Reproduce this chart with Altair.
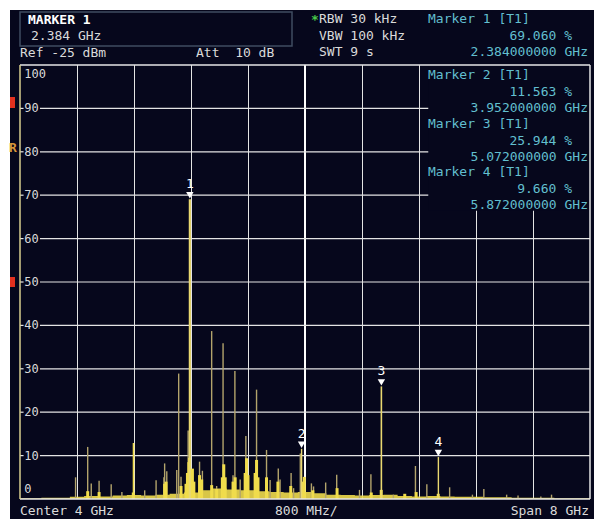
import altair as alt
import pandas as pd

# plot area inside the 594x519 canvas
W, H = 570, 434
OX, OY = 20, 65

BG = "#06071c"
GRID = "#e4e4e4"
TAN = "#b3a46c"
YEL = "#f0dc4c"
CYAN = "#62bfcf"
TXT = "#dadada"
FONT = "DejaVu Sans Mono"
NB = "\u00a0"

# thin harmonic spikes (GHz, %)
spike_ghz = [0.78, 0.95, 1.00, 1.11, 1.28, 1.43, 1.75, 1.91, 2.02, 2.03, 2.06, 2.20,
             2.227, 2.26, 2.36, 2.52, 2.56, 2.69, 2.76, 2.85, 2.99, 3.016, 3.09, 3.17,
             3.32, 3.46, 3.51, 3.625, 3.65, 3.805, 3.84, 3.934, 4.09, 4.12, 4.29, 4.445,
             4.765, 4.925, 5.24, 5.55, 5.71, 6.03, 6.35, 6.51, 6.83, 6.99, 7.31, 7.46]
spike_pct = [5.0, 12.0, 3.6, 4.2, 3.4, 1.6, 2.0, 4.3, 5.0, 8.2, 6.4, 6.7,
             28.9, 5.1, 15.8, 8.6, 6.5, 38.7, 3.0, 35.9, 5.5, 29.5, 4.5, 14.5,
             25.2, 11.3, 4.4, 7.0, 4.5, 6.0, 2.5, 10.5, 3.6, 2.9, 3.8, 5.6,
             2.1, 5.7, 1.0, 7.6, 3.4, 2.7, 1.0, 2.3, 1.0, 0.8, 0.6, 1.0]

# brighter single spike
bright_ghz = [1.593]
bright_pct = [12.9]

# dense yellow body of the trace around the main lines
bulk_ghz = [0.95, 1.11, 1.59, 2.03, 2.05, 2.26, 2.33, 2.35, 2.37, 2.38, 2.42, 2.44,
            2.52, 2.55, 2.69, 2.76, 2.84, 2.86, 2.88, 2.99, 3.02, 3.16, 3.18, 3.20,
            3.30, 3.32, 3.34, 3.46, 3.62, 3.80, 3.97, 3.99, 4.11, 4.45, 4.93, 5.07,
            5.40, 5.56, 5.87]
bulk_pct = [1.8, 1.6, 1.5, 3.5, 4.0, 3.0, 3.5, 6.0, 8.5, 9.5, 7.0, 4.0,
            5.5, 4.5, 3.2, 2.3, 5.0, 8.0, 5.0, 4.0, 5.0, 6.0, 9.4, 5.5,
            6.0, 9.0, 5.0, 5.0, 4.0, 3.0, 4.0, 5.1, 2.0, 2.5, 1.5, 2.1,
            1.2, 1.6, 1.2]

# noise floor
floor_ghz = [0.0, 0.2, 0.4, 0.6, 0.8, 1.0, 1.2, 1.4, 1.6, 1.8, 2.0, 2.2, 2.4, 2.6,
             2.8, 3.0, 3.2, 3.4, 3.6, 3.8, 4.0, 4.2, 4.4, 4.6, 4.8, 5.0, 5.2, 5.4,
             5.6, 5.8, 6.0, 6.2, 6.4, 6.6, 6.8, 7.0, 7.2, 7.4, 7.6, 7.8, 8.0]
floor_pct = [0.2, 0.2, 0.3, 0.3, 0.5, 0.7, 0.6, 0.8, 0.9, 0.8, 1.0, 1.2, 1.5, 2.0,
             2.4, 2.2, 2.0, 1.8, 1.6, 1.5, 1.6, 1.3, 1.0, 0.9, 0.8, 0.9, 1.0, 0.7,
             0.6, 0.7, 0.6, 0.5, 0.5, 0.4, 0.4, 0.3, 0.3, 0.3, 0.2, 0.2, 0.2]

# markers
marker_id = ["1", "2", "3", "4"]
marker_ghz = [2.384, 3.952, 5.072, 5.872]
marker_pct = [69.060, 11.563, 25.944, 9.660]

# grid
vgrid_ghz = [0.8, 1.6, 2.4, 3.2, 4.8, 5.6, 6.4, 7.2]
hgrid_pct = [10, 20, 30, 40, 50, 60, 70, 80, 90]
level_labels = ["0", "10", "20", "30", "40", "50", "60", "70", "80", "90", "100"]

xs = alt.Scale(domain=[0, 8], nice=False, zero=False)
ys = alt.Scale(domain=[0, 100], nice=False, zero=False)


def X(f="ghz"):
    return alt.X(f"{f}:Q", scale=xs, axis=None)


def Y(f="pct"):
    return alt.Y(f"{f}:Q", scale=ys, axis=None)


def px_layer(rows, align, weight="normal"):
    df = pd.DataFrame(rows, columns=["t", "ax", "ay", "c"])
    df["px"] = df["ax"] - OX
    df["py"] = df["ay"] - OY
    return alt.Chart(df).mark_text(align=align, baseline="middle", font=FONT,
                                   fontSize=13, fontWeight=weight).encode(
        x=alt.X("px:Q", scale=None, axis=None),
        y=alt.Y("py:Q", scale=None, axis=None),
        text="t:N",
        color=alt.Color("c:N", scale=None),
    )


one = pd.DataFrame({"k": [0]})

# dark screen with a thin light margin on the left and top
screen = alt.Chart(one).mark_rect(color=BG).encode(
    x=alt.value(10 - OX), x2=alt.value(594 - OX),
    y=alt.value(10 - OY), y2=alt.value(519 - OY))

# info box for marker 1
mbox = alt.Chart(one).mark_rect(fill=BG, stroke="#3f4c60", strokeWidth=1.5).encode(
    x=alt.value(20 - OX), x2=alt.value(292 - OX),
    y=alt.value(12 - OY), y2=alt.value(46 - OY))

# side flags
flags = alt.Chart(pd.DataFrame({"a": [97 - OY, 277 - OY], "b": [108 - OY, 287 - OY]})
                  ).mark_rect(color="#e2301e").encode(
    x=alt.value(10 - OX), x2=alt.value(15 - OX),
    y=alt.Y("a:Q", scale=None, axis=None), y2="b:Q",
)

vgrid = alt.Chart(pd.DataFrame({"ghz": vgrid_ghz})).mark_rule(
    color=GRID, strokeWidth=1, xOffset=0.5).encode(x=X(), y=alt.value(0), y2=alt.value(H))
center = alt.Chart(pd.DataFrame({"ghz": [4.0]})).mark_rule(
    color="#ffffff", strokeWidth=2).encode(x=X(), y=alt.value(0), y2=alt.value(H))

hg = pd.DataFrame({"pct": hgrid_pct, "a": 0.28, "b": 8.0, "c": 0.0, "d": 0.05})
hgrid = alt.Chart(hg).mark_rule(color=GRID, strokeWidth=1.2).encode(
    y=Y(), x=X("a"), x2="b:Q")
hticks = alt.Chart(hg).mark_rule(color=GRID, strokeWidth=1.2).encode(
    y=Y(), x=X("c"), x2="d:Q")

# readout panel covering the upper right grid
panel = alt.Chart(pd.DataFrame({"a": [5.73], "b": [8.0], "c": [66.4], "d": [100.0]})
                  ).mark_rect(color=BG).encode(x=X("a"), x2="b:Q", y=Y("c"), y2="d:Q")

lv = pd.DataFrame({"t": level_labels,
                   "pct": [2.2] + hgrid_pct + [97.9],
                   "ghz": 0.06})
levels = alt.Chart(lv).mark_text(align="left", baseline="middle", font=FONT,
                                 fontSize=12, color=TXT).encode(x=X(), y=Y(), text="t:N")

floor = alt.Chart(pd.DataFrame({"ghz": floor_ghz, "pct": floor_pct})).mark_area(
    color=YEL, opacity=0.9, interpolate="step").encode(x=X(), y=Y())

spikes = alt.Chart(pd.DataFrame({"ghz": spike_ghz, "pct": spike_pct, "z": 0.0})
                   ).mark_rule(color=TAN, strokeWidth=1.4).encode(x=X(), y=Y(), y2="z:Q")
bright = alt.Chart(pd.DataFrame({"ghz": bright_ghz, "pct": bright_pct, "z": 0.0})
                   ).mark_rule(color=YEL, strokeWidth=1.6).encode(x=X(), y=Y(), y2="z:Q")
bulk = alt.Chart(pd.DataFrame({"ghz": bulk_ghz, "pct": bulk_pct, "z": 0.0})
                 ).mark_rule(color=YEL, strokeWidth=3).encode(x=X(), y=Y(), y2="z:Q")

mk = pd.DataFrame({"id": marker_id, "ghz": marker_ghz, "pct": marker_pct, "z": 0.0,
                   "w": [2.2, 1.4, 1.6, 1.4]})
mlines = alt.Chart(mk).mark_rule(color="#e9d870").encode(
    x=X(), y=Y(), y2="z:Q", strokeWidth=alt.StrokeWidth("w:Q", scale=None))
mtri = alt.Chart(mk).mark_point(shape="triangle-down", filled=True, color="#ffffff",
                                size=55, opacity=1, yOffset=-4).encode(x=X(), y=Y())
mnum = alt.Chart(mk).mark_text(font=FONT, fontSize=13, color="#ffffff", dy=-15,
                               baseline="middle").encode(x=X(), y=Y(), text="id:N")

frame = alt.Chart(pd.DataFrame({"a": [0.0, 0.0, 8.0], "b": [8.0, 8.0, 8.0],
                                "c": [100.0, 0.0, 0.0], "d": [100.0, 0.0, 100.0]})
                  ).mark_rule(color="#e6e6e6", strokeWidth=1.5).encode(
    x=X("a"), x2="b:Q", y=Y("c"), y2="d:Q")
leftedge = alt.Chart(pd.DataFrame({"a": [0.0], "c": [0.0], "d": [100.0]})).mark_rule(
    color="#d8cf8e", strokeWidth=1.5).encode(x=X("a"), y=Y("c"), y2="d:Q")

bold_rows = [
    ("MARKER 1", 28, 20, "#ffffff"),
    ("*", 311, 20, "#49c94a"),
    ("R", 9, 148, "#d8953a"),
]
left_rows = [
    (f"{marker_ghz[0]:.3f} GHz", 31, 36, TXT),
    ("Ref -25 dBm", 20, 53, TXT),
    (f"Att{NB}{NB}10 dB", 196, 53, TXT),
    ("RBW 30 kHz", 319, 19, TXT),
    ("VBW 100 kHz", 319, 36, TXT),
    ("SWT 9 s", 319, 52, TXT),
    ("Center 4 GHz", 20, 511, TXT),
    ("800 MHz/", 275, 511, TXT),
]
right_rows = [("Span 8 GHz", 589, 511, TXT)]
row0 = [19, 75, 124, 172]
for i, m in enumerate(marker_id):
    y0 = row0[i]
    left_rows.append((f"Marker {m} [T1]", 428, y0, CYAN))
    right_rows.append((f"{marker_pct[i]:.3f} %", 572, y0 + 16.5, CYAN))
    right_rows.append((f"{marker_ghz[i]:.9f} GHz", 588, y0 + 33, CYAN))

texts_b = px_layer(bold_rows, "left", "bold")
texts_l = px_layer(left_rows, "left")
texts_r = px_layer(right_rows, "right")

chart = alt.layer(
    screen, flags, mbox, vgrid, center, hgrid, hticks, panel, levels,
    floor, spikes, bulk, bright, mlines, mtri, mnum, frame, leftedge,
    texts_b, texts_l, texts_r,
).properties(
    width=W, height=H,
    autosize=alt.AutoSizeParams(type="none"),
    padding={"left": OX, "top": OY, "right": 594 - OX - W, "bottom": 519 - OY - H},
    background="#ffffff",
).configure_view(strokeWidth=0)

chart.save("out.html", embed_options={"renderer": "svg", "actions": False})
